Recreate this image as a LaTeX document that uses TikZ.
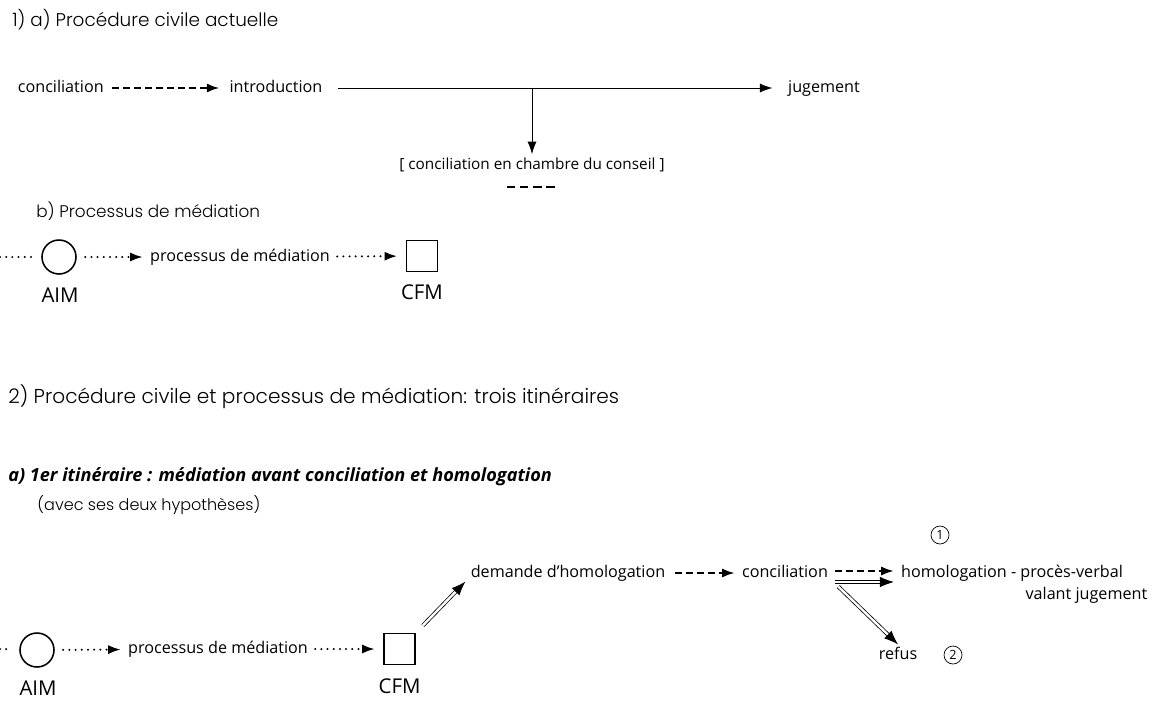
\documentclass[tikz,border=0pt]{standalone}
\usepackage{fontspec}
\setmainfont{Open Sans}
\newfontfamily\headfont{Poppins Light}
\usetikzlibrary{arrows.meta, positioning, calc}

\tikzset{
    lbl/.style={font=\fontsize{11.5}{13}\selectfont, inner xsep=5pt, inner ysep=2pt,
        text height=1.6ex, text depth=0.4ex},
    tag/.style={font=\fontsize{14.5}{16}\selectfont, inner sep=1pt},
    head/.style={anchor=west, inner sep=0pt, font=\headfont\fontsize{12}{14}\selectfont},
    subhead/.style={anchor=west, inner sep=0pt, font=\bfseries\itshape\fontsize{12.9}{15}\selectfont},
    numtag/.style={circle, draw, line width=0.5pt, inner sep=0.8pt, minimum size=0.45cm, font=\fontsize{9}{10}\selectfont},
    aimnode/.style={circle, draw, line width=1.1pt, minimum size=0.85cm, inner sep=0pt},
    cfmnode/.style={rectangle, draw, line width=1.1pt, minimum size=0.78cm, inner sep=0pt},
    plainarrow/.style={line width=0.7pt, -{Latex[length=9pt, width=6.5pt]}},
    dasharrow/.style={line width=1.6pt, dash pattern=on 5pt off 2.8pt, -{Latex[length=9pt, width=6.5pt]}},
    dotline/.style={line width=1.6pt, line cap=round, dash pattern=on 0pt off 4.4pt},
    dotarrow/.style={dotline, -{Latex[length=9pt, width=6.5pt]}},
    dblarrow/.style={double, line width=0.55pt, double distance=1.7pt, -{Latex[length=10pt, width=7.5pt]}}
}

\begin{document}
\begin{tikzpicture}

    \useasboundingbox (0,0) rectangle (29.05,-17.525);

    % ============================================================
    % 1 a) PROCEDURE CIVILE ACTUELLE
    % ============================================================
    \node[head, font=\headfont\fontsize{13.1}{15}\selectfont] (titleA) at (0.3,-0.5)
        {1) a) Procédure civile actuelle};

    \node[lbl] (concil) at (1.52,-2.2) {conciliation};
    \node[lbl] (intro) at (6.9,-2.2) {introduction};
    \node[lbl] (jugement) at (20.6,-2.2) {jugement};
    \coordinate (branch) at (13.3,-2.2);
    \node[lbl, font=\fontsize{10.9}{12}\selectfont] (chambre) at (13.3,-4.12)
        {[ conciliation en chambre du conseil ]};

    \draw[dasharrow, shorten <=1pt, shorten >=2pt] (concil) -- (intro);
    \draw[plainarrow, shorten <=6pt, shorten >=6pt] (intro) -- (jugement);
    \draw[plainarrow] (branch) -- (chambre.north);
    \draw[line width=1.6pt, dash pattern=on 6pt off 3.4pt]
        (12.67,-4.675) -- (13.875,-4.675);

    % ============================================================
    % 1 b) PROCESSUS DE MEDIATION
    % ============================================================
    \node[head] (titleB) at (0.9,-5.275) {b) Processus de médiation};

    \coordinate (start1) at (0,-6.425);
    \node[aimnode] (aim1) at (1.475,-6.425) {};
    \node[tag] (aimlbl1) at (1.5,-7.375) {AIM};
    \node[lbl] (med1) at (6.0,-6.425) {processus de médiation};
    \node[cfmnode] (cfm1) at (10.55,-6.4) {};
    \node[tag] (cfmlbl1) at (10.55,-7.3) {CFM};

    \draw[dotline, shorten >=6pt] (start1) -- (aim1);
    \draw[dotarrow, shorten <=6pt] (aim1) -- (med1);
    \draw[dotarrow, shorten >=6pt] (med1) -- (cfm1);

    % ============================================================
    % 2) TROIS ITINERAIRES
    % ============================================================
    \node[head, font=\headfont\fontsize{14.3}{16}\selectfont] (titleC) at (0.2,-9.925)
        {2) Procédure civile et processus de médiation: trois itinéraires};
    \node[subhead] (titleD) at (0.2,-11.925)
        {a) 1er itinéraire : médiation avant conciliation et homologation};
    \node[head, font=\headfont\fontsize{11.4}{13}\selectfont] (titleE) at (0.93,-12.62)
        {(avec ses deux hypothèses)};

    % ============================================================
    % 1ER ITINERAIRE
    % ============================================================
    \coordinate (start2) at (0,-16.225);
    \node[aimnode] (aim2) at (0.925,-16.25) {};
    \node[tag] (aimlbl2) at (0.95,-17.2) {AIM};
    \node[lbl] (med2) at (5.45,-16.225) {processus de médiation};
    \node[cfmnode] (cfm2) at (9.99,-16.225) {};
    \node[tag] (cfmlbl2) at (9.99,-17.15) {CFM};

    \node[lbl] (demande) at (14.2,-14.325) {demande d'homologation};
    \node[lbl] (concil2) at (19.625,-14.325) {conciliation};
    \node[lbl] (homol) at (25.3,-14.325) {homologation - procès-verbal};
    \node[lbl] (valant) at (27.16,-14.875) {valant jugement};
    \node[lbl] (refus) at (22.45,-16.375) {refus};
    \node[numtag] (one) at (23.5,-13.375) {1};
    \node[numtag] (two) at (23.825,-16.375) {2};

    \draw[dotline, shorten >=6pt] (start2) -- (aim2);
    \draw[dotarrow, shorten <=6pt] (aim2) -- (med2);
    \draw[dotarrow, shorten >=6pt] (med2) -- (cfm2);

    \draw[dblarrow, shorten <=7pt, shorten >=-2pt] (cfm2.north east) -- (demande.south west);
    \draw[dasharrow, shorten <=2pt] (demande) -- (concil2);
    \draw[dasharrow] ([yshift=0.05cm]concil2.east) -- ([yshift=0.05cm]homol.west);
    \draw[dblarrow] ([yshift=-0.225cm]concil2.east) -- ([yshift=-0.225cm]homol.west);
    \draw[dblarrow, shorten <=3pt] (concil2.south east) -- (refus.north);

\end{tikzpicture}
\end{document}
